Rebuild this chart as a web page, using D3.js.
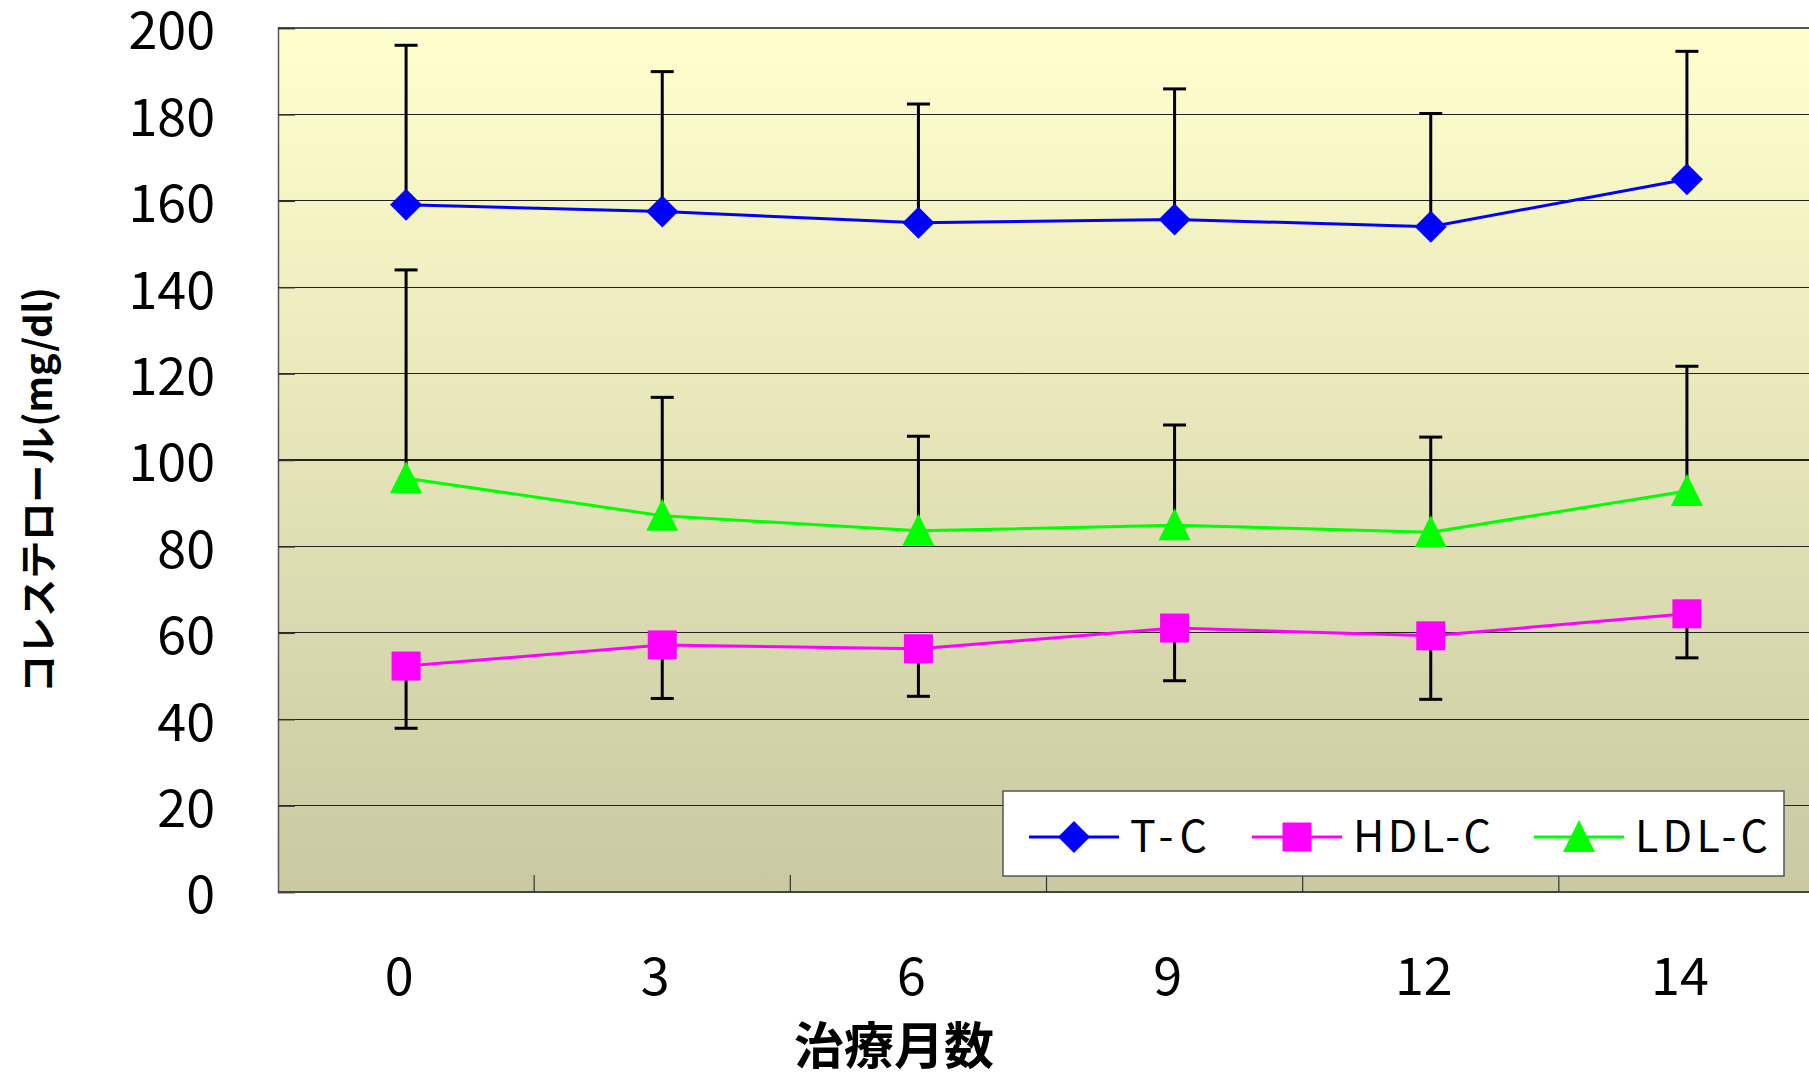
<!DOCTYPE html>
<html><head><meta charset="utf-8">
<script src="https://cdn.jsdelivr.net/npm/d3@7"></script>
<style>body{margin:0;background:#fff;} svg{display:block;}</style>
</head><body>
<svg id="chart" width="1809" height="1076"></svg>
<script>
// ---- data ----
const months = ["0", "3", "6", "9", "12", "14"];
const yTicks = [0, 20, 40, 60, 80, 100, 120, 140, 160, 180, 200];
const tcMean = [159.1, 157.5, 154.9, 155.7, 154.0, 165.0];
const tcErrTop = [196.0, 189.9, 182.4, 185.9, 180.2, 194.6];
const hdlMean = [52.3, 57.2, 56.3, 61.1, 59.3, 64.4];
const hdlErrBottom = [37.9, 44.8, 45.3, 48.9, 44.6, 54.2];
const ldlMean = [95.8, 87.1, 83.6, 84.9, 83.3, 92.8];
const ldlErrTop = [144.0, 114.5, 105.5, 108.1, 105.3, 121.7];
const seriesNames = ["T-C", "HDL-C", "LDL-C"];
const seriesColors = ["#0000FF", "#FF00FF", "#00FF00"];
const yTitle = "コレステロール(mg/dl)";
const xTitle = "治療月数";

const svg = d3.select("#chart");
const L = 278, R = 1815, T = 28, B = 892;
const x = d3.scaleBand().domain(months).range([L, R]).padding(0);
const bw = x.bandwidth();
const cx = m => x(m) + bw / 2;
const y = d3.scaleLinear().domain([0, 200]).range([B, T]);
const font = "'Noto Sans CJK JP', 'Noto Sans', sans-serif";

// background gradient
const defs = svg.append("defs");
const grad = defs.append("linearGradient").attr("id", "bg").attr("x1", 0).attr("y1", 0).attr("x2", 0).attr("y2", 1);
grad.append("stop").attr("offset", "0%").attr("stop-color", "#FFFFCE");
grad.append("stop").attr("offset", "100%").attr("stop-color", "#C9C9A2");
svg.append("rect").attr("x", L).attr("y", T).attr("width", R - L).attr("height", B - T).attr("fill", "url(#bg)");

// gridlines
svg.append("g").selectAll("line").data(yTicks.filter(d => d > 0)).join("line")
  .attr("x1", L).attr("x2", R).attr("y1", d => y(d)).attr("y2", d => y(d))
  .attr("stroke", "#222").attr("stroke-width", 1.2).attr("shape-rendering", "crispEdges");

// frame top
svg.append("line").attr("x1", L).attr("x2", R).attr("y1", T).attr("y2", T)
  .attr("stroke", "#666").attr("stroke-width", 1.5);

// y axis
const yAxis = d3.axisLeft(y).tickValues(yTicks).tickSize(-17).tickPadding(0).tickFormat(d3.format("d"));
const gy = svg.append("g").attr("transform", `translate(${L},0)`).call(yAxis);
gy.select(".domain").attr("stroke", "#555").attr("stroke-width", 1.5);
gy.selectAll(".tick line").attr("stroke", "#333").attr("stroke-width", 1.5);
gy.selectAll(".tick text").attr("x", -63).attr("dy", "0.4em").attr("font-size", 52)
  .attr("font-family", font).attr("fill", "#000");

// x axis
svg.append("line").attr("x1", L).attr("x2", R).attr("y1", B).attr("y2", B).attr("stroke", "#444").attr("stroke-width", 1.8);
svg.append("g").selectAll("line").data(months.slice(1)).join("line")
  .attr("x1", d => x(d)).attr("x2", d => x(d)).attr("y1", B).attr("y2", B - 17)
  .attr("stroke", "#333").attr("stroke-width", 1.2);
svg.append("g").selectAll("text").data(months).join("text")
  .attr("x", d => cx(d) - 7).attr("y", 995).attr("text-anchor", "middle")
  .attr("font-size", 52).attr("font-family", font).attr("fill", "#000").text(d => d);

// titles
svg.append("text").attr("x", 894).attr("y", 1064).attr("text-anchor", "middle")
  .attr("font-size", 50).attr("font-weight", "bold").attr("font-family", font).text(xTitle);
svg.append("text").attr("transform", "translate(52,490) rotate(-90)").attr("text-anchor", "middle")
  .attr("font-size", 38).attr("font-weight", "bold").attr("font-family", font).text(yTitle);

// error bars
function errBars(means, ends) {
  const g = svg.append("g").attr("stroke", "#000").attr("stroke-width", 3);
  months.forEach((m, i) => {
    g.append("line").attr("x1", cx(m)).attr("x2", cx(m)).attr("y1", y(means[i])).attr("y2", y(ends[i]));
    g.append("line").attr("x1", cx(m) - 11.5).attr("x2", cx(m) + 11.5).attr("y1", y(ends[i])).attr("y2", y(ends[i]));
  });
}
errBars(tcMean, tcErrTop);
errBars(hdlMean, hdlErrBottom);
errBars(ldlMean, ldlErrTop);

// lines
const lineGen = d3.line().x((d, i) => cx(months[i])).y(d => y(d));
[tcMean, hdlMean, ldlMean].forEach((s, k) => {
  svg.append("path").attr("d", lineGen(s)).attr("fill", "none").attr("stroke", seriesColors[k]).attr("stroke-width", 3);
});

// markers
const diamond = (g, px, py, c) => g.append("path").attr("d", `M${px},${py - 16}L${px + 16},${py}L${px},${py + 16}L${px - 16},${py}Z`).attr("fill", c);
const square = (g, px, py, c) => g.append("rect").attr("x", px - 14.5).attr("y", py - 14.5).attr("width", 29).attr("height", 29).attr("fill", c);
const triangle = (g, px, py, c) => g.append("path").attr("d", `M${px},${py - 17}L${px + 16},${py + 15}L${px - 16},${py + 15}Z`).attr("fill", c);
const markerFns = [diamond, square, triangle];
const mg = svg.append("g");
[tcMean, hdlMean, ldlMean].forEach((s, k) => {
  s.forEach((v, i) => markerFns[k](mg, cx(months[i]), y(v), seriesColors[k]));
});

// legend
const lg = svg.append("g");
lg.append("rect").attr("x", 1003).attr("y", 791).attr("width", 781).attr("height", 85)
  .attr("fill", "#fff").attr("stroke", "#555").attr("stroke-width", 1.5);
const legX = [1029, 1252, 1534];
const legW = [77, 138, 133];
seriesNames.forEach((n, k) => {
  const lx = legX[k], ly = 837;
  lg.append("line").attr("x1", lx).attr("x2", lx + 90).attr("y1", ly).attr("y2", ly)
    .attr("stroke", seriesColors[k]).attr("stroke-width", 3);
  markerFns[k](lg, lx + 45, ly, seriesColors[k]);
  lg.append("text").attr("x", lx + 101).attr("y", 852).attr("font-size", 43)
    .attr("textLength", legW[k]).attr("lengthAdjust", "spacing")
    .attr("font-family", font).attr("fill", "#000").text(n);
});
</script>
</body></html>
